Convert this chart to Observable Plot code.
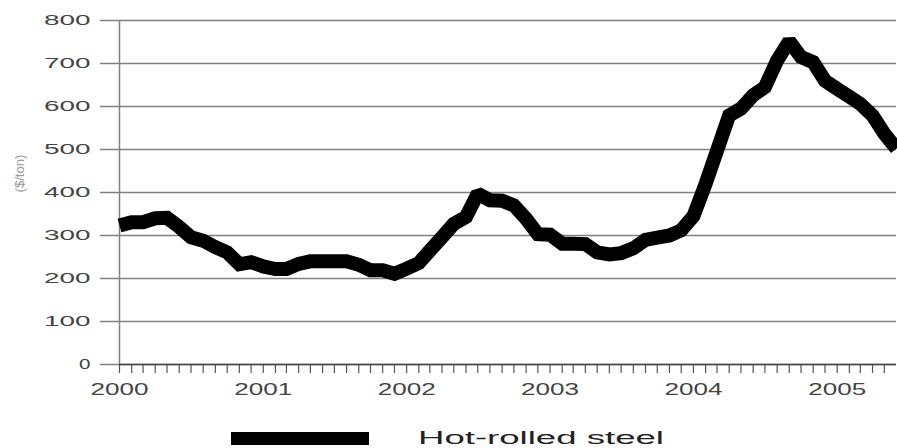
<!DOCTYPE html>
<html><head><meta charset="utf-8">
<script src="https://cdn.jsdelivr.net/npm/d3@7"></script>
<script src="https://cdn.jsdelivr.net/npm/@observablehq/plot@0.6"></script>
<style>
body{margin:0;background:#fff;font-family:"Liberation Sans",Arial,sans-serif;overflow:hidden}
#chart svg{display:block}
</style>
</head><body><div id="chart"></div>
<script>
// ---- data ----
const startMonth = "2000-01-01";
const endMonth = "2005-06-01";
const prices = [
  323,331,331,340,341,320,296,288,273,261,233,238,
  228,222,222,234,240,240,240,240,232,219,219,211,
  223,236,265,296,327,343,397,382,381,370,339,303,
  302,281,281,280,261,256,259,270,290,295,300,312,
  345,420,497,579,595,626,645,707,752,715,703,660,
  641,623,606,579,537,502
];
const yTicks = [0,100,200,300,400,500,600,700,800];
const yearTicks = ["2000-01-01","2001-01-01","2002-01-01","2003-01-01","2004-01-01","2005-01-01"];
const seriesName = "Hot-rolled steel";
const yLabel = "($/ton)";

// ---- build ----
const start = new Date(startMonth);
const rows = prices.map((p, i) => ({date: d3.utcMonth.offset(start, i), price: p}));
const monthTicks = d3.utcMonths(start, new Date(endMonth));
const years = yearTicks.map(d => new Date(d));

const chart = Plot.plot({
  width: 897, height: 410,
  marginLeft: 119, marginRight: 1, marginTop: 20, marginBottom: 46,
  style: {fontFamily: "Liberation Sans, Arial, sans-serif", background: "#fff", overflow: "visible"},
  x: {type: "utc", domain: [start, new Date(endMonth)]},
  y: {domain: [0, 800]},
  marks: [
    Plot.gridY(yTicks, {stroke: "#808080", strokeOpacity: 1, strokeWidth: 1.5}),
    Plot.axisY(yTicks, {tickSize: 19, tickPadding: 10, fontSize: 14, stroke: "#808080", strokeWidth: 1.5, fill: "#444", label: null}),
    Plot.text([yLabel], {frameAnchor: "left", rotate: -90, dx: -99, fontSize: 12, fill: "#999"}),
    Plot.ruleX([start], {stroke: "#808080", strokeWidth: 1.5}),
    Plot.axisX(monthTicks, {tickSize: 9, tickFormat: () => "", stroke: "#555", strokeWidth: 1.2, label: null}),
    Plot.axisX(years, {tickSize: 0, tickPadding: 19, fontSize: 16, fill: "#444", tickFormat: d3.utcFormat("%Y"), label: null}),
    Plot.ruleY([0], {stroke: "#444", strokeWidth: 1.5}),
    Plot.line(rows, {x: "date", y: "price", stroke: "#000", strokeWidth: 14,
      strokeLinejoin: "miter", strokeMiterlimit: 1.2, strokeLinecap: "butt"})
  ]
});
document.getElementById("chart").appendChild(chart);

// widen the tick labels like the reference's extended type
d3.select(chart).selectAll('g[aria-label="y-axis tick label"] text').each(function() {
  const n = this.textContent.length;
  if (n) { this.setAttribute("textLength", n * 11.5 + (n - 1) * 6); this.setAttribute("lengthAdjust", "spacingAndGlyphs"); }
});
d3.select(chart).selectAll('g[aria-label="x-axis tick label"] text').each(function() {
  const n = this.textContent.length;
  if (n) { this.setAttribute("textLength", n * 13 + (n - 1) * 2); this.setAttribute("lengthAdjust", "spacingAndGlyphs"); }
});
d3.select(chart).selectAll('g[aria-label="text"] text').each(function() {
  this.setAttribute("textLength", 38); this.setAttribute("lengthAdjust", "spacingAndGlyphs");
});

// legend below the plot
const legend = d3.select("#chart").append("svg").attr("width", 897).attr("height", 38);
legend.append("rect").attr("x", 231).attr("y", 22).attr("width", 138).attr("height", 13).attr("fill", "#000");
legend.append("text").attr("x", 418).attr("y", 34).attr("font-size", 18)
  .attr("font-family", "Liberation Sans, Arial, sans-serif").attr("fill", "#222")
  .attr("textLength", 246).attr("lengthAdjust", "spacingAndGlyphs").text(seriesName);
</script>
</body></html>
